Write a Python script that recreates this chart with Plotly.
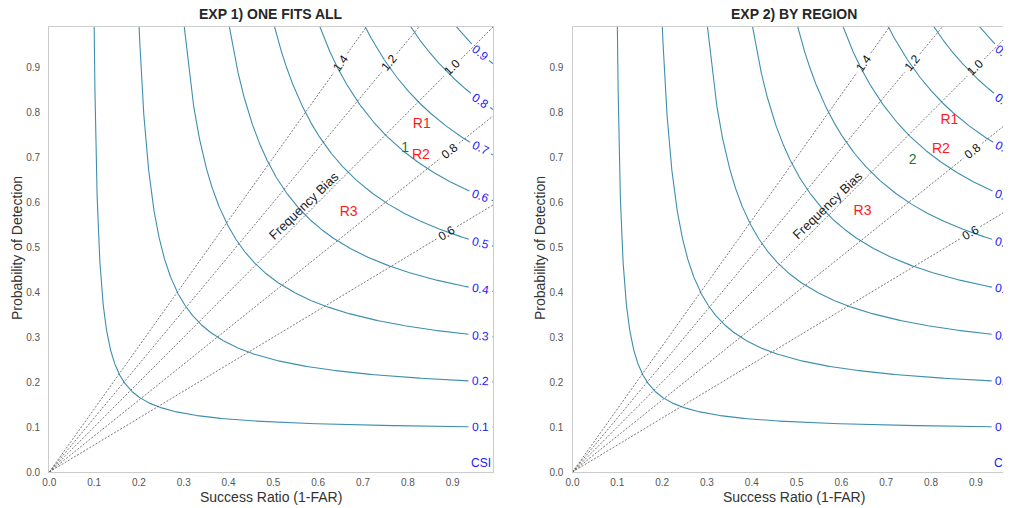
import numpy as np
import plotly.graph_objects as go

# ---------------- data ----------------
csi_levels = [0.1, 0.2, 0.3, 0.4, 0.5, 0.6, 0.7, 0.8, 0.9]
csi_labels = ["0.1", "0.2", "0.3", "0.4", "0.5", "0.6", "0.7", "0.8", "0.9"]
bias_levels = [0.6, 0.8, 1.0, 1.2, 1.4]
bias_labels = ["0.6", "0.8", "1.0", "1.2", "1.4"]
tick_vals = [0.0, 0.1, 0.2, 0.3, 0.4, 0.5, 0.6, 0.7, 0.8, 0.9]
tick_text = ["0.0", "0.1", "0.2", "0.3", "0.4", "0.5", "0.6", "0.7", "0.8", "0.9"]
panel_titles = ["EXP 1) ONE FITS ALL", "EXP 2) BY REGION"]
region_names = ["R1", "R2", "R3"]
exp1_sr = [0.831, 0.829, 0.668]
exp1_pod = [0.773, 0.705, 0.578]
exp2_sr = [0.841, 0.822, 0.647]
exp2_pod = [0.783, 0.718, 0.579]
overall_names = ["1", "2"]
overall_sr = [0.794, 0.759]
overall_pod = [0.720, 0.694]

# ---------------- layout constants (window pixels) ----------------
OFF = 8                      # page body margin
WIN_W, WIN_H = 1011, 508
W, H = WIN_W, WIN_H - OFF    # figure runs past the right window edge (cropped like the reference)
TOP_PX, BOT_PX = 27.3, 471.7  # frame top / bottom in window pixels
MT, MB = TOP_PX - OFF, H - (BOT_PX - OFF)
PLOT_H = H - MT - MB
AX_MAX = 0.99
LEFT_X0, LEFT_X1 = 49.3, 493.0
PX_UNIT = (LEFT_X1 - LEFT_X0) / AX_MAX
RIGHT_X0 = 572.5
RIGHT_X1 = RIGHT_X0 + (LEFT_X1 - LEFT_X0)


def px_x(xw):
    return (xw - OFF) / W


def px_y(yw):
    return ((BOT_PX - OFF) - (yw - OFF)) / PLOT_H


CSI_COLOR = "#3d8fad"
BIAS_COLOR = "#555555"
FONT = "Arial, Liberation Sans, Helvetica, sans-serif"
CSI_LABEL_SR = 0.962
BIAS_LABEL_SR = [0.887, 0.893, 0.900, 0.758, 0.650]
GAP_PX = 12.0


def csi_pod(sr, c):
    return 1.0 / (1.0 / c + 1.0 - 1.0 / sr)


fig = go.Figure()
annotations = []

panels = [("x", "y", exp1_sr, exp1_pod, 0), ("x2", "y2", exp2_sr, exp2_pod, 1)]

for xa, ya, psr, ppod, k in panels:
    # CSI contours
    for c, lab in zip(csi_levels, csi_labels):
        sr_top = c
        pod_l = csi_pod(CSI_LABEL_SR, c)
        slope = (pod_l / CSI_LABEL_SR) ** 2
        ang = np.degrees(np.arctan(slope))
        dsr = GAP_PX / PX_UNIT * np.cos(np.radians(ang))
        g0, g1 = CSI_LABEL_SR - dsr, CSI_LABEL_SR + dsr
        t = np.linspace(0, 1, 900) ** 3
        sr_a = sr_top + 1e-6 + (g0 - sr_top) * t
        sr_b = np.linspace(g1, AX_MAX, 20)
        sr_all = np.concatenate([sr_a, [np.nan], sr_b])
        pod_all = csi_pod(sr_all, c)
        fig.add_trace(go.Scatter(x=sr_all, y=pod_all, mode="lines", xaxis=xa, yaxis=ya,
                                 line=dict(color=CSI_COLOR, width=1.1), hoverinfo="skip",
                                 showlegend=False))
        annotations.append(dict(x=CSI_LABEL_SR, y=pod_l, xref=xa, yref=ya, text=lab,
                                showarrow=False, textangle=ang * 0.92,
                                font=dict(family=FONT, size=12, color="#1a1aff"),
                                xanchor="center", yanchor="middle"))
    # Bias lines
    for b, lab, lsr in zip(bias_levels, bias_labels, BIAS_LABEL_SR):
        ang = np.degrees(np.arctan(b))
        dsr = GAP_PX / PX_UNIT * np.cos(np.radians(ang))
        end_sr = min(AX_MAX, AX_MAX / b)
        xs = [0.0, lsr - dsr, None, lsr + dsr, end_sr]
        ys = [0.0, b * (lsr - dsr), None, b * (lsr + dsr), b * end_sr]
        fig.add_trace(go.Scatter(x=xs, y=ys, mode="lines", xaxis=xa, yaxis=ya,
                                 line=dict(color=BIAS_COLOR, width=0.8, dash="2px,1.6px"),
                                 hoverinfo="skip", showlegend=False, connectgaps=False))
        annotations.append(dict(x=lsr, y=b * lsr, xref=xa, yref=ya, text=lab,
                                showarrow=False, textangle=-ang,
                                font=dict(family=FONT, size=12, color="#111111"),
                                xanchor="center", yanchor="middle"))
    # Frequency bias label
    annotations.append(dict(x=0.568, y=0.594, xref=xa, yref=ya, text="Frequency Bias",
                            showarrow=False, textangle=-44,
                            font=dict(family=FONT, size=13, color="#222222"),
                            xanchor="center", yanchor="middle"))
    # CSI label
    annotations.append(dict(x=0.9625, y=0.019, xref=xa, yref=ya, text="CSI",
                            showarrow=False,
                            font=dict(family=FONT, size=12, color="#1a1aff"),
                            xanchor="center", yanchor="middle"))
    # region points
    fig.add_trace(go.Scatter(x=psr, y=ppod, mode="text", text=region_names, xaxis=xa, yaxis=ya,
                             textposition="middle center",
                             textfont=dict(family=FONT, size=14, color="#ff1a1a"),
                             hoverinfo="skip", showlegend=False, cliponaxis=False))
    fig.add_trace(go.Scatter(x=[overall_sr[k]], y=[overall_pod[k]], mode="text",
                             text=[overall_names[k]], xaxis=xa, yaxis=ya,
                             textposition="middle center",
                             textfont=dict(family=FONT, size=14, color="#1b7a1b"),
                             hoverinfo="skip", showlegend=False, cliponaxis=False))

# titles and axis titles
centers = [(LEFT_X0 + LEFT_X1) / 2, (RIGHT_X0 + RIGHT_X1) / 2]
for k, cx in enumerate(centers):
    annotations.append(dict(x=px_x(cx), y=px_y(14), xref="paper", yref="paper",
                            text="<b>" + panel_titles[k] + "</b>", showarrow=False,
                            font=dict(family=FONT, size=14, color="#262626"),
                            xanchor="center", yanchor="middle"))
    annotations.append(dict(x=px_x(cx), y=px_y(497), xref="paper", yref="paper",
                            text="Success Ratio (1-FAR)", showarrow=False,
                            font=dict(family=FONT, size=14, color="#333333"),
                            xanchor="center", yanchor="middle"))
ylab_x = [17.0, 540.0]
for k in range(2):
    annotations.append(dict(x=px_x(ylab_x[k]), y=px_y(248), xref="paper", yref="paper",
                            text="Probability of Detection", showarrow=False, textangle=-90,
                            font=dict(family=FONT, size=14, color="#333333"),
                            xanchor="center", yanchor="middle"))

axis_common = dict(showgrid=False, zeroline=False, showline=True, linecolor="#cccccc",
                   linewidth=1.3, tickvals=tick_vals, ticktext=tick_text, ticks="",
                   automargin=False,
                   tickfont=dict(family=FONT, size=10, color="#555555"))

fig.update_layout(
    width=W, height=H, plot_bgcolor="white", paper_bgcolor="white",
    margin=dict(l=0, r=0, t=MT, b=MB, autoexpand=False), showlegend=False,
    annotations=annotations,
    xaxis=dict(domain=[px_x(LEFT_X0), px_x(LEFT_X1)], range=[0, AX_MAX], anchor="y",
               mirror=True, ticklabelstandoff=1, **axis_common),
    yaxis=dict(domain=[0, 1], range=[0, AX_MAX], anchor="x", mirror=True,
               ticklabelstandoff=6, **axis_common),
    xaxis2=dict(domain=[px_x(RIGHT_X0), px_x(RIGHT_X1)], range=[0, AX_MAX], anchor="y2",
                mirror=True, ticklabelstandoff=1, **axis_common),
    yaxis2=dict(domain=[0, 1], range=[0, AX_MAX], anchor="x2", mirror=True,
                ticklabelstandoff=6, **axis_common),
)

fig.write_html("out.html")
